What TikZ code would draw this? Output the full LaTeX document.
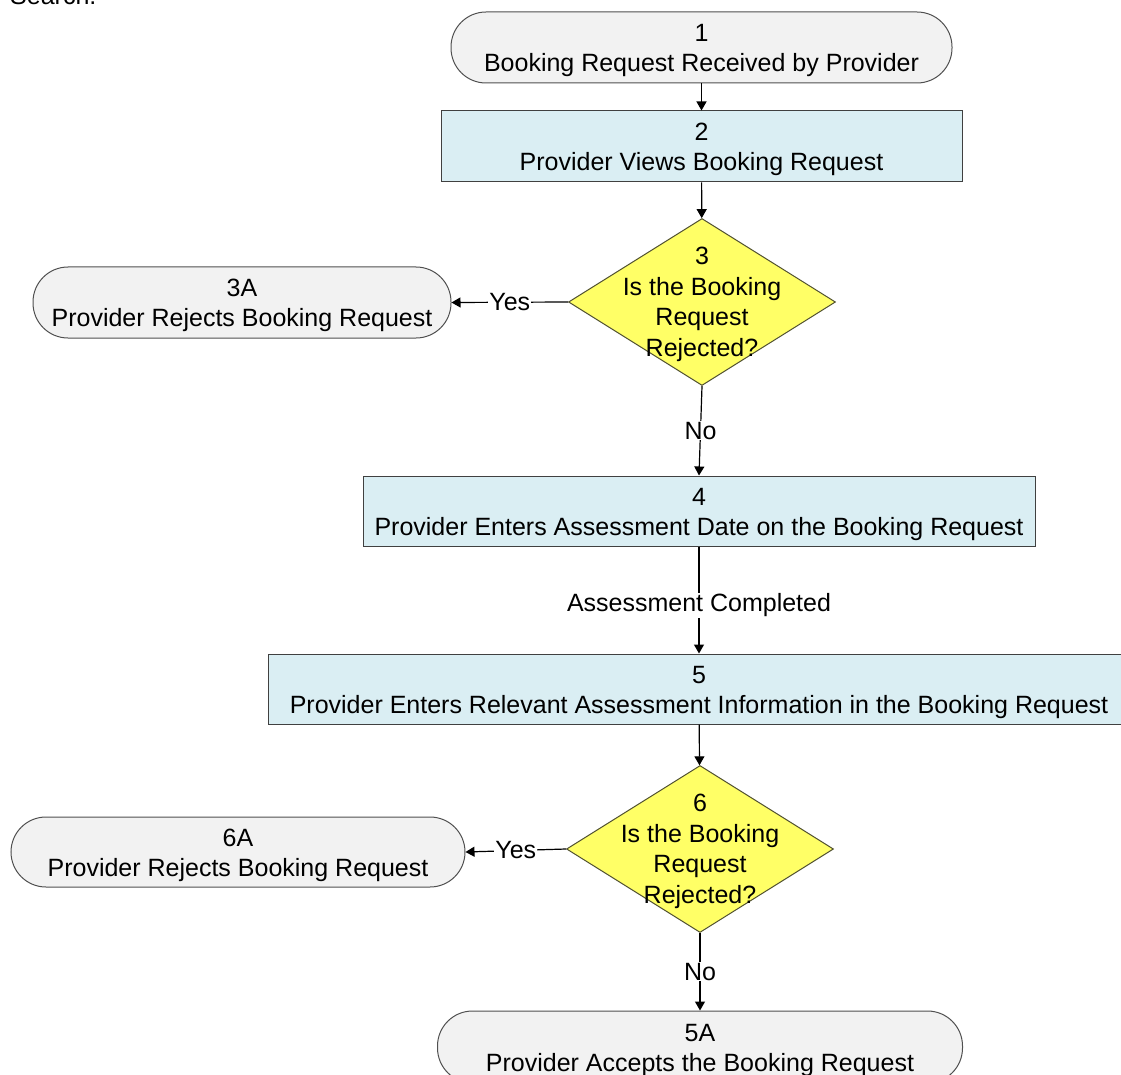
\documentclass[tikz,border=0pt]{standalone}
\usepackage{fontspec}
\setmainfont{Liberation Sans}
\usetikzlibrary{shapes.geometric,arrows.meta}
\definecolor{termfill}{HTML}{F2F2F2}
\definecolor{termline}{HTML}{505050}
\definecolor{procfill}{HTML}{DAEEF3}
\definecolor{procline}{HTML}{404040}
\definecolor{decfill}{HTML}{FFFF66}
\definecolor{decline}{HTML}{505030}
\newcommand{\toppad}{\rule{0pt}{24pt}}
\newcommand{\dectop}{\rule{0pt}{22pt}}
\begin{document}
\begin{tikzpicture}[x=1pt,y=-1pt,
  font=\fontsize{25}{30}\selectfont,
  term/.style={draw=termline, fill=termfill, rounded corners=35pt, minimum height=71pt, align=center, line width=1pt},
  proc/.style={draw=procline, fill=procfill, minimum height=71pt, align=center, line width=1pt},
  dec/.style={diamond, draw=decline, fill=decfill, inner sep=0pt, minimum width=267pt, minimum height=167pt, line width=1pt},
  dectext/.style={align=center, inner sep=0pt, font=\fontsize{25}{30.5}\selectfont},
  arr/.style={-{Triangle[length=9pt,width=10pt]}, line width=1.2pt},
  lbl/.style={fill=white, inner sep=1pt}]
\useasboundingbox (0,0) rectangle (1121,1075);
\clip (0,0) rectangle (1121,1075);
\fill[white] (0,0) rectangle (1121,1075);

\node[anchor=base west, inner sep=0pt] (srch) at (10,5) {Search.};

\node[term, minimum width=501pt] (n1) at (701.5,47.5) {\toppad 1\\Booking Request Received by Provider};
\node[proc, minimum width=521pt] (n2) at (701.5,146.5) {\toppad 2\\Provider Views Booking Request};
\node[dec] (n3) at (702,302) {};
\node[dectext] (t3) at (n3.center) {\dectop 3\\Is the Booking\\Request\\Rejected?};
\node[term, minimum width=418pt] (n3a) at (242,302.5) {\toppad 3A\\Provider Rejects Booking Request};
\node[proc, minimum width=672pt, minimum height=70pt] (n4) at (699,511) {\toppad 4\\Provider Enters Assessment Date on the Booking Request};
\node[proc, minimum width=862pt, minimum height=70pt] (n5) at (699,689) {\toppad 5\\Provider Enters Relevant Assessment Information in the Booking Request};
\node[dec] (n6) at (700,849) {};
\node[dectext] (t6) at (n6.center) {\dectop 6\\Is the Booking\\Request\\Rejected?};
\node[term, minimum width=454pt, minimum height=70pt] (n6a) at (238,852) {\toppad 6A\\Provider Rejects Booking Request};
\node[term, minimum width=525pt, minimum height=72pt] (n5a) at (700,1047) {\toppad 5A\\Provider Accepts the Booking Request};

\draw[arr] (n1) -- (n2);
\draw[arr] (n2) -- (n3);
\draw[arr] (n3.west) -- node[lbl] {Yes} (n3a.east);
\draw[arr] (n3.south) -- node[lbl] {No} (n4.north);
\draw[arr] (n4) -- node[lbl, pos=0.55] {Assessment Completed} (n5);
\draw[arr] (n5) -- (n6);
\draw[arr] (n6.west) -- node[lbl] {Yes} (n6a.east);
\draw[arr] (n6.south) -- node[lbl] {No} (n5a.north);
\end{tikzpicture}
\end{document}
